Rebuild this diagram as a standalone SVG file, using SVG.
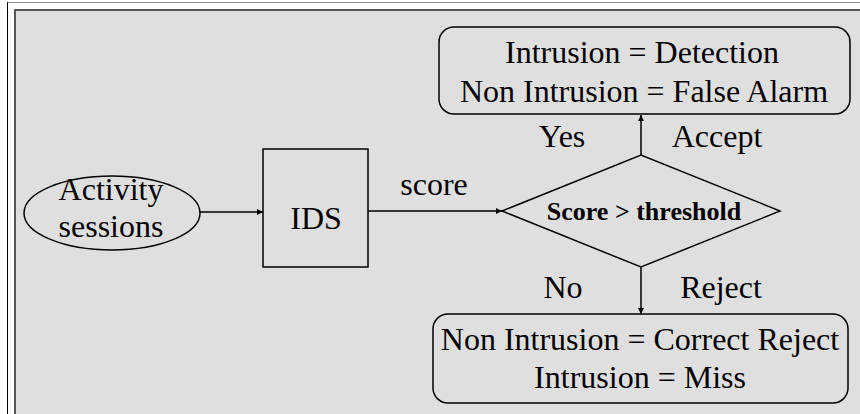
<svg xmlns="http://www.w3.org/2000/svg" width="860" height="414" viewBox="0 0 860 414">
<defs>
<style>
.t{font-family:"Liberation Serif","Times New Roman",serif;font-size:32px;fill:#000;text-anchor:middle}
.b{font-family:"Liberation Serif","Times New Roman",serif;font-size:26px;font-weight:bold;fill:#000;text-anchor:middle}
.s{fill:none;stroke:#000;stroke-width:1.5}
.c{stroke:#000;stroke-width:1.5;fill:none;marker-end:url(#ah)}
</style>
<marker id="ah" viewBox="0 0 10 10" refX="10" refY="5" markerWidth="6" markerHeight="6" markerUnits="userSpaceOnUse" orient="auto"><path d="M0,0 L10,5 L0,10 z" fill="#000"/></marker>
</defs>
<rect x="0" y="0" width="860" height="414" fill="#fff"/>
<line x1="7" y1="2.5" x2="860" y2="2.5" stroke="#888" stroke-width="1"/>
<line x1="7.5" y1="2" x2="7.5" y2="414" stroke="#000" stroke-width="1"/>
<rect x="15" y="10" width="850" height="410" fill="#dfdfdf" stroke="#555" stroke-width="2"/>
<g id="connectors">
<line class="c" x1="200" y1="212" x2="263" y2="212"/>
<line class="c" x1="368" y1="211" x2="502" y2="211"/>
<line class="c" x1="641" y1="155" x2="641" y2="115"/>
<line class="c" x1="641" y1="267" x2="641" y2="314"/>
<text class="t" x="434" y="195">score</text>
<text class="t" x="562" y="147">Yes</text>
<text class="t" x="717" y="147">Accept</text>
<text class="t" x="563" y="298">No</text>
<text class="t" x="721" y="298">Reject</text>
</g>
<g id="activity">
<ellipse class="s" cx="112" cy="213" rx="88" ry="37"/>
<text class="t" x="111" y="200">Activity</text>
<text class="t" x="111" y="237">sessions</text>
</g>
<g id="ids">
<rect class="s" x="263" y="149" width="105" height="118"/>
<text class="t" x="316" y="229">IDS</text>
</g>
<g id="decision">
<polygon class="s" points="502,211 641,155 780,211 641,267"/>
<text class="b" x="644" y="220">Score &gt; threshold</text>
</g>
<g id="accept">
<rect class="s" x="439" y="27" width="411" height="87" rx="15"/>
<text class="t" x="642" y="63">Intrusion = Detection</text>
<text class="t" x="644" y="102">Non Intrusion = False Alarm</text>
</g>
<g id="reject">
<rect class="s" x="433" y="314" width="415" height="89" rx="15"/>
<text class="t" x="640" y="350">Non Intrusion = Correct Reject</text>
<text class="t" x="640" y="388">Intrusion = Miss</text>
</g>
</svg>
